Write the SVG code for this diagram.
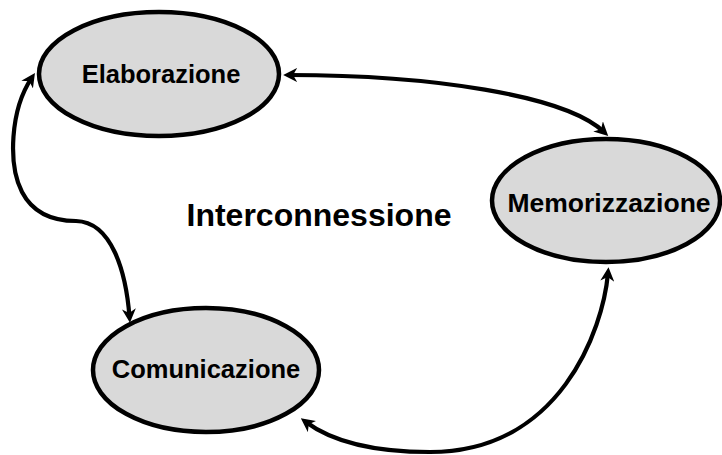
<svg xmlns="http://www.w3.org/2000/svg" width="722" height="455" viewBox="0 0 722 455">
  <style>
    .node { fill: #d9d9d9; stroke: #000; stroke-width: 4.5; }
    .label { font-family: "Liberation Sans", Arial, sans-serif; font-weight: bold; font-size: 25.5px; text-anchor: middle; fill: #000; }
    .title { font-family: "Liberation Sans", Arial, sans-serif; font-weight: bold; font-size: 32px; text-anchor: middle; fill: #000; }
    .link { fill: none; stroke: #000; stroke-width: 4.2; marker-start: url(#arrow); marker-end: url(#arrow); }
  </style>
  <defs>
    <!-- barbed arrowhead, tip sits about 6px beyond the path end -->
    <marker id="arrow" viewBox="0 0 12 12" refX="7" refY="6" markerWidth="14" markerHeight="14" markerUnits="userSpaceOnUse" orient="auto-start-reverse">
      <path d="M0,0 L12,6 L0,12 L3.5,6 z" fill="#000"/>
    </marker>
  </defs>
  <rect width="722" height="455" fill="#fff"/>

  <g id="connectors">
    <path class="link" d="M289,75 C430,75 565,95 604,132"/>
    <path class="link" d="M31.7,77.8 C10,110 8,165 22,192 C34,215 55,221 76,221 C112,222 126,272 129.5,317"/>
    <path class="link" d="M608,273 C603,330 560,452 430,452 C370,452 330,440 305.5,421.7"/>
  </g>

  <g id="elaborazione">
    <ellipse class="node" cx="159" cy="74" rx="120" ry="62"/>
    <text class="label" x="161" y="83">Elaborazione</text>
  </g>

  <g id="memorizzazione">
    <ellipse class="node" cx="606" cy="200.5" rx="114" ry="61.5"/>
    <text class="label" x="609" y="212" style="font-size:26.5px">Memorizzazione</text>
  </g>

  <g id="comunicazione">
    <ellipse class="node" cx="206" cy="370" rx="113" ry="62"/>
    <text class="label" x="206" y="378">Comunicazione</text>
  </g>

  <g id="interconnessione">
    <text class="title" x="319" y="226">Interconnessione</text>
  </g>
</svg>
